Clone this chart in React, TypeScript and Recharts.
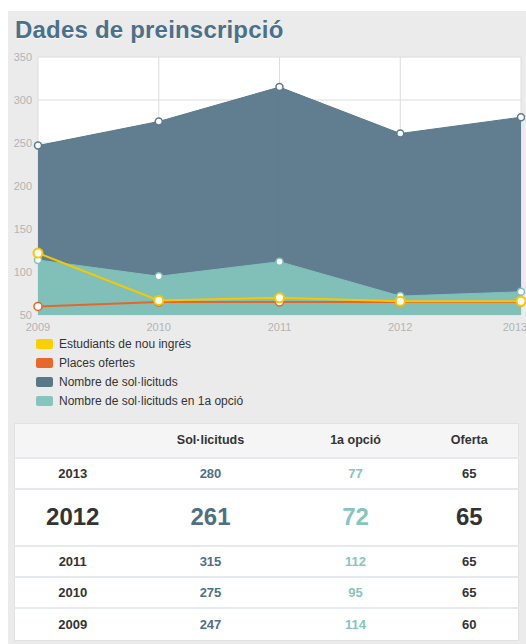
import React from 'react'
import { ComposedChart, Area, Line, XAxis, YAxis, CartesianGrid } from 'recharts'

const years = [2009, 2010, 2011, 2012, 2013]
const solicituds = [247, 275, 315, 261, 280]
const primeraOpcio = [114, 95, 112, 72, 77]
const placesOfertes = [60, 65, 65, 65, 65]
const nouIngres = [122, 67, 70, 66, 66]
const yTicks = [50, 100, 150, 200, 250, 300, 350]

const tableYears = [2013, 2012, 2011, 2010, 2009]
const highlightYear = 2012

const C_DARK = '#5b7a8c'
const C_TEAL = '#80c0b8'
const C_ORANGE = '#e5662a'
const C_YELLOW = '#f5c800'

const FONT = '"Helvetica Neue", Helvetica, "Liberation Sans", Arial, sans-serif'

const legendItems = [
  { label: 'Estudiants de nou ingrés', color: '#fccf00' },
  { label: 'Places ofertes', color: '#e8672a' },
  { label: 'Nombre de sol·licituds', color: '#587789' },
  { label: 'Nombre de sol·licituds en 1a opció', color: '#86c5bd' },
]

const data = years.map((y, i) => ({
  year: y,
  solicituds: solicituds[i],
  primera: primeraOpcio[i],
  places: placesOfertes[i],
  nou: nouIngres[i],
}))

const colWidths = [116, 160, 130, 98]
const colColors = ['#333', '#4f6f86', '#86c5bd', '#333']

function DataTable() {
  const rows = tableYears.map(y => {
    const i = years.indexOf(y)
    return [y, solicituds[i], primeraOpcio[i], placesOfertes[i]]
  })
  return (
    <table
      style={{
        position: 'absolute',
        left: 6,
        top: 412,
        width: 504,
        borderCollapse: 'collapse',
        background: '#fff',
        border: '1px solid #e2e2e2',
        fontFamily: FONT,
        fontWeight: 'bold',
        tableLayout: 'fixed',
      }}
    >
      <colgroup>
        {colWidths.map((w, i) => <col key={i} style={{ width: w }} />)}
      </colgroup>
      <thead>
        <tr style={{ background: '#f5f5f5', height: 34 }}>
          {['', 'Sol·licituds', '1a opció', 'Oferta'].map((h, i) => (
            <th key={i} style={{ fontSize: 12.5, color: '#333', textAlign: 'center', padding: 0 }}>{h}</th>
          ))}
        </tr>
      </thead>
      <tbody>
        {rows.map((r, ri) => {
          const big = r[0] === highlightYear
          return (
            <tr
              key={ri}
              style={{
                height: big ? 57 : ri === rows.length - 1 ? 33 : 31,
                borderTop: '2px solid #e6eaef',
              }}
            >
              {r.map((v, ci) => (
                <td
                  key={ci}
                  style={{
                    textAlign: 'center',
                    padding: 0,
                    fontSize: big ? 24 : 13,
                    color: colColors[ci],
                  }}
                >
                  {v}
                </td>
              ))}
            </tr>
          )
        })}
      </tbody>
    </table>
  )
}

export default function App() {
  return (
    <div>
      <style>{'body{margin:0;overflow:hidden}'}</style>
      <div
        style={{
          position: 'absolute',
          left: 8,
          top: 11,
          width: 518,
          height: 633,
          background: '#ebebeb',
          overflow: 'hidden',
          fontFamily: FONT,
        }}
      >
        <div
          style={{
            position: 'absolute',
            left: 7,
            top: 5,
            fontSize: 24,
            fontWeight: 'bold',
            color: '#4b7089',
            letterSpacing: 0.2,
            textShadow: '0 1px 0 rgba(255,255,255,0.6)',
          }}
        >
          Dades de preinscripció
        </div>
        <div style={{ position: 'absolute', left: 0, top: 0 }}>
          <ComposedChart
            width={518}
            height={330}
            data={data}
            margin={{ top: 46, right: 5, bottom: 6, left: 0 }}
          >
            <CartesianGrid stroke="#dcdcdc" fill="#fff" fillOpacity={1} />
            <XAxis
              dataKey="year"
              type="number"
              domain={[2009, 2013]}
              ticks={years}
              height={20}
              axisLine={false}
              tickLine={false}
              tick={{ fontSize: 11, fill: '#b4b4b4', fontFamily: FONT }}
            />
            <YAxis
              domain={[50, 350]}
              ticks={yTicks}
              width={30}
              axisLine={false}
              tickLine={false}
              tickMargin={0}
              tick={{ fontSize: 11, fill: '#b4b4b4', fontFamily: FONT }}
            />
            <Area
              type="linear"
              dataKey="solicituds"
              stroke={C_DARK}
              strokeWidth={1}
              fill={C_DARK}
              fillOpacity={0.97}
              dot={{ r: 3.5, fill: '#fff', stroke: C_DARK, strokeWidth: 1.5 }}
              isAnimationActive={false}
            />
            <Area
              type="linear"
              dataKey="primera"
              stroke={C_TEAL}
              strokeWidth={1}
              fill={C_TEAL}
              fillOpacity={1}
              dot={{ r: 3.5, fill: '#fff', stroke: C_TEAL, strokeWidth: 1.5 }}
              isAnimationActive={false}
            />
            <Line
              type="linear"
              dataKey="places"
              stroke={C_ORANGE}
              strokeWidth={2}
              dot={{ r: 4, fill: '#fff', stroke: C_ORANGE, strokeWidth: 1.5 }}
              isAnimationActive={false}
            />
            <Line
              type="linear"
              dataKey="nou"
              stroke={C_YELLOW}
              strokeWidth={2}
              dot={{ r: 4.5, fill: '#fff', stroke: C_YELLOW, strokeWidth: 2 }}
              isAnimationActive={false}
            />
          </ComposedChart>
        </div>
        <div style={{ position: 'absolute', left: 28, top: 323 }}>
          {legendItems.map(it => (
            <div key={it.label} style={{ display: 'flex', alignItems: 'center', height: 19 }}>
              <span
                style={{
                  display: 'inline-block',
                  width: 17,
                  height: 10,
                  borderRadius: 2,
                  background: it.color,
                  marginRight: 6,
                }}
              />
              <span style={{ fontSize: 12, color: '#333' }}>{it.label}</span>
            </div>
          ))}
        </div>
        <DataTable />
      </div>
    </div>
  )
}
